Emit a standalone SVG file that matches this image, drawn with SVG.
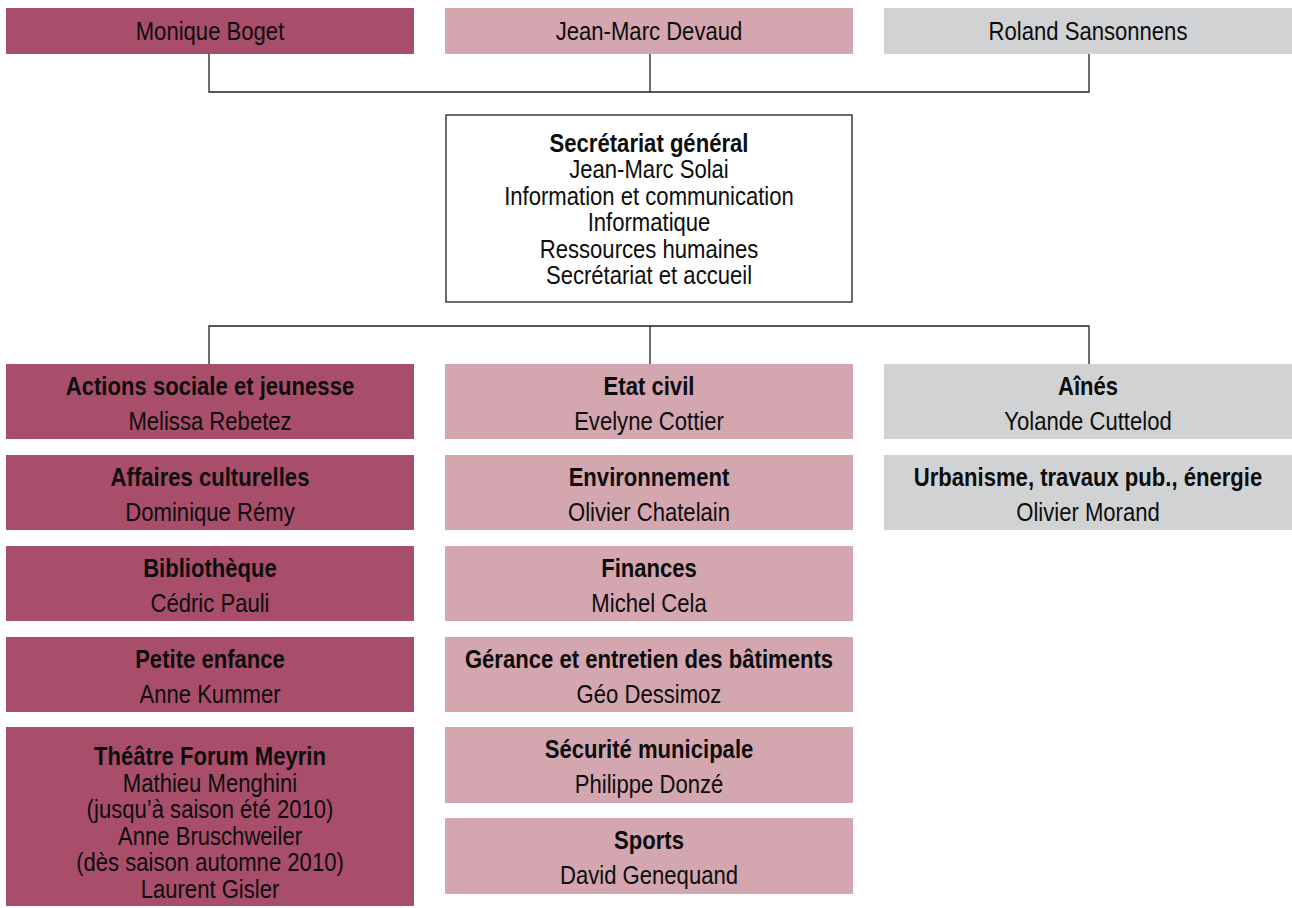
<svg xmlns="http://www.w3.org/2000/svg" width="1292" height="908" viewBox="0 0 1292 908">
<style>
.dark{fill:#A84E6B}
.pink{fill:#D3A6B0}
.grey{fill:#D1D2D4}
text{font-family:"Liberation Sans",Arial,sans-serif;font-size:26px;fill:#0d0d0d;text-anchor:middle}
.b{font-weight:bold}
.conn{fill:none;stroke:#231F20;stroke-width:1.3}
</style>
<rect width="1292" height="908" fill="#fff"/>
<g id="connectors" class="conn">
<path d="M209 54V92H1089V54M650 54V92"/>
<path d="M209 364V326H1089V364M650 326V364"/>
</g>
<g id="monique-boget"><rect class="dark" x="6" y="8" width="408" height="46"/>
<g transform="translate(210 0) scale(0.85 1)"><text x="0" y="40.5">Monique Boget</text></g></g>
<g id="jean-marc-devaud"><rect class="pink" x="445" y="8" width="408" height="46"/>
<g transform="translate(649 0) scale(0.85 1)"><text x="0" y="40.5">Jean-Marc Devaud</text></g></g>
<g id="roland-sansonnens"><rect class="grey" x="884" y="8" width="408" height="46"/>
<g transform="translate(1088 0) scale(0.85 1)"><text x="0" y="40.5">Roland Sansonnens</text></g></g>
<g id="secretariat"><rect x="446" y="115" width="406" height="187" fill="#fff" stroke="#231F20" stroke-width="1.3"/>
<g transform="translate(649 0) scale(0.85 1)">
<text class="b" x="0" y="152">Secrétariat général</text>
<text x="0" y="178.4">Jean-Marc Solai</text>
<text x="0" y="204.8">Information et communication</text>
<text x="0" y="231.2">Informatique</text>
<text x="0" y="257.6">Ressources humaines</text>
<text x="0" y="284">Secrétariat et accueil</text>
</g></g>
<g id="actions-sociale"><rect class="dark" x="6" y="364" width="408" height="75"/>
<g transform="translate(210 0) scale(0.85 1)"><text class="b" x="0" y="395">Actions sociale et jeunesse</text><text x="0" y="430">Melissa Rebetez</text></g></g>
<g id="affaires-culturelles"><rect class="dark" x="6" y="455" width="408" height="75"/>
<g transform="translate(210 0) scale(0.85 1)"><text class="b" x="0" y="486">Affaires culturelles</text><text x="0" y="521">Dominique Rémy</text></g></g>
<g id="bibliotheque"><rect class="dark" x="6" y="546" width="408" height="75"/>
<g transform="translate(210 0) scale(0.85 1)"><text class="b" x="0" y="577">Bibliothèque</text><text x="0" y="612">Cédric Pauli</text></g></g>
<g id="petite-enfance"><rect class="dark" x="6" y="637" width="408" height="75"/>
<g transform="translate(210 0) scale(0.85 1)"><text class="b" x="0" y="668">Petite enfance</text><text x="0" y="703">Anne Kummer</text></g></g>
<g id="theatre"><rect class="dark" x="6" y="727" width="408" height="179"/>
<g transform="translate(210 0) scale(0.85 1)">
<text class="b" x="0" y="765">Théâtre Forum Meyrin</text>
<text x="0" y="791.6">Mathieu Menghini</text>
<text x="0" y="818.2">(jusqu’à saison été 2010)</text>
<text x="0" y="844.8">Anne Bruschweiler</text>
<text x="0" y="871.4">(dès saison automne 2010)</text>
<text x="0" y="898">Laurent Gisler</text>
</g></g>
<g id="etat-civil"><rect class="pink" x="445" y="364" width="408" height="75"/>
<g transform="translate(649 0) scale(0.85 1)"><text class="b" x="0" y="395">Etat civil</text><text x="0" y="430">Evelyne Cottier</text></g></g>
<g id="environnement"><rect class="pink" x="445" y="455" width="408" height="75"/>
<g transform="translate(649 0) scale(0.85 1)"><text class="b" x="0" y="486">Environnement</text><text x="0" y="521">Olivier Chatelain</text></g></g>
<g id="finances"><rect class="pink" x="445" y="546" width="408" height="75"/>
<g transform="translate(649 0) scale(0.85 1)"><text class="b" x="0" y="577">Finances</text><text x="0" y="612">Michel Cela</text></g></g>
<g id="gerance"><rect class="pink" x="445" y="637" width="408" height="75"/>
<g transform="translate(649 0) scale(0.85 1)"><text class="b" x="0" y="668">Gérance et entretien des bâtiments</text><text x="0" y="703">Géo Dessimoz</text></g></g>
<g id="securite"><rect class="pink" x="445" y="727" width="408" height="76"/>
<g transform="translate(649 0) scale(0.85 1)"><text class="b" x="0" y="758">Sécurité municipale</text><text x="0" y="793">Philippe Donzé</text></g></g>
<g id="sports"><rect class="pink" x="445" y="818" width="408" height="76"/>
<g transform="translate(649 0) scale(0.85 1)"><text class="b" x="0" y="849">Sports</text><text x="0" y="884">David Genequand</text></g></g>
<g id="aines"><rect class="grey" x="884" y="364" width="408" height="75"/>
<g transform="translate(1088 0) scale(0.85 1)"><text class="b" x="0" y="395">Aînés</text><text x="0" y="430">Yolande Cuttelod</text></g></g>
<g id="urbanisme"><rect class="grey" x="884" y="455" width="408" height="75"/>
<g transform="translate(1088 0) scale(0.85 1)"><text class="b" x="0" y="486">Urbanisme, travaux pub., énergie</text><text x="0" y="521">Olivier Morand</text></g></g>
</svg>
